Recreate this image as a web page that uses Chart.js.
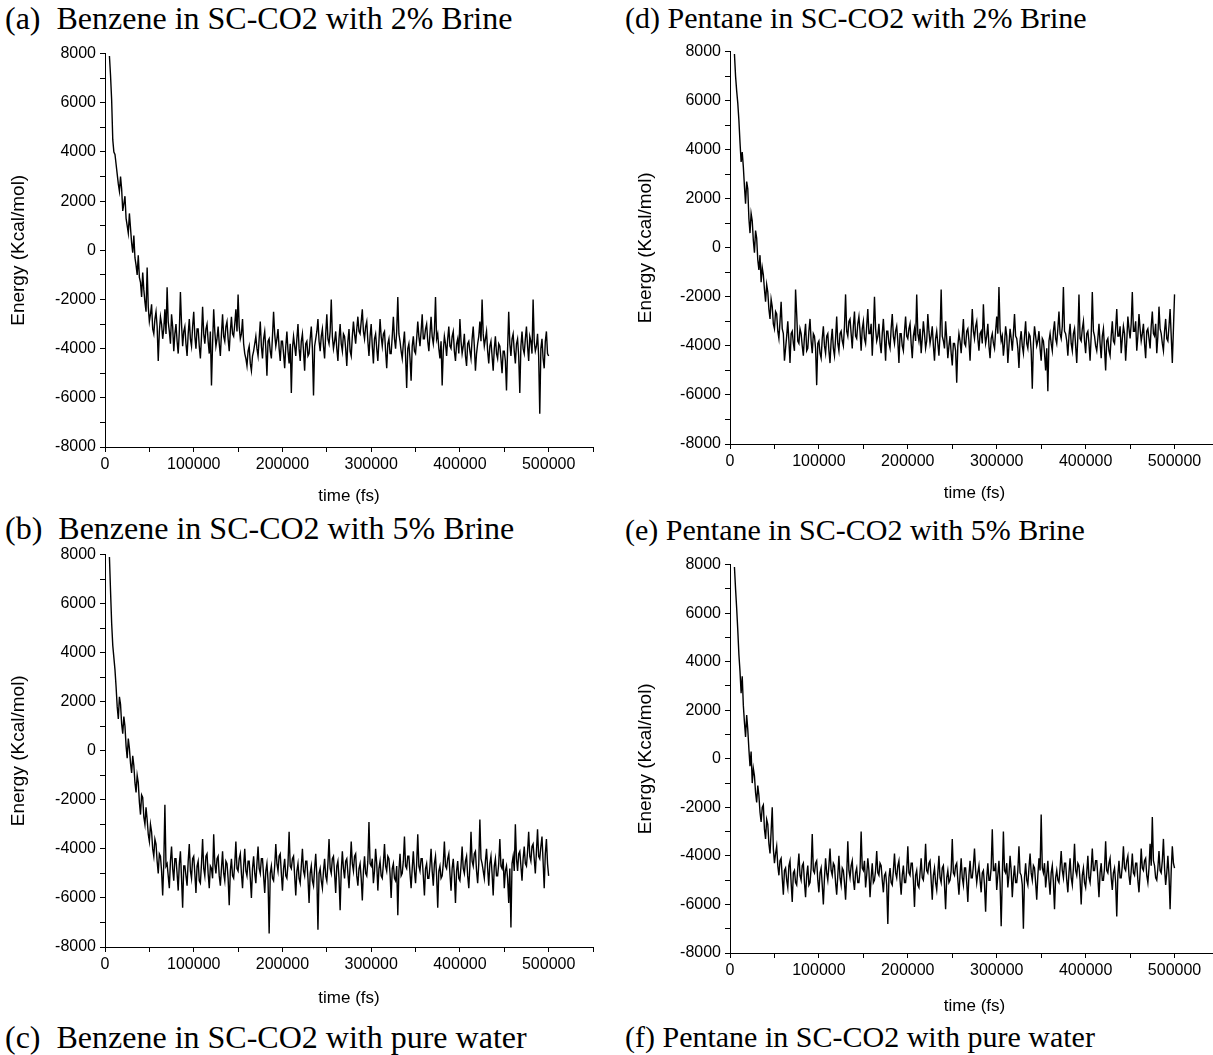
<!DOCTYPE html>
<html>
<head>
<meta charset="utf-8">
<script src="https://cdn.jsdelivr.net/npm/chart.js@4"></script>
<style>
  body { margin: 0; width: 1213px; height: 1055px; overflow: hidden; background: #fff; position: relative; }
  .cap { position: absolute; font-family: "Liberation Serif", "Times New Roman", serif; line-height: 1; white-space: pre; color: #000; }
  .left { font-size: 32px; }
  .right { font-size: 30px; }
  canvas { position: absolute; }
</style>
</head>
<body>
<div class="cap left" style="left:5px;top:2px">(a)  Benzene in SC-CO2 with 2% Brine</div>
<div class="cap left" style="left:5px;top:512px">(b)  Benzene in SC-CO2 with 5% Brine</div>
<div class="cap left" style="left:5px;top:1021px">(c)  Benzene in SC-CO2 with pure water</div>
<div class="cap right" style="left:625px;top:3px">(d) Pentane in SC-CO2 with 2% Brine</div>
<div class="cap right" style="left:625px;top:515px">(e) Pentane in SC-CO2 with 5% Brine</div>
<div class="cap right" style="left:625px;top:1022px">(f) Pentane in SC-CO2 with pure water</div>

<canvas id="plotA" width="598" height="467" style="left:0;top:40px"></canvas>
<canvas id="plotD" width="599" height="466" style="left:625px;top:38px"></canvas>
<canvas id="plotB" width="598" height="468" style="left:0;top:541px"></canvas>
<canvas id="plotE" width="599" height="466" style="left:625px;top:551px"></canvas>

<script>
// sampled time points (fs)
const timeFs = [
  5000,6250,7500,8750,10000,11250,12500,13750,15000,16250,17500,18750,20000,21250,22500,23750,25000,26250,27500,28750,
  30000,31250,32500,33750,35000,36250,37500,38750,40000,41250,42500,43750,45000,46250,47500,48750,50000,51250,52500,53750,
  55000,56250,57500,58750,60000,61250,62500,63750,65000,66250,67500,68750,70000,71250,72500,73750,75000,76250,77500,78750,
  80000,81250,82500,83750,85000,86250,87500,88750,90000,91250,92500,93750,95000,96250,97500,98750,100000,101250,102500,103750,
  105000,106250,107500,108750,110000,111250,112500,113750,115000,116250,117500,118750,120000,121250,122500,123750,125000,126250,127500,128750,
  130000,131250,132500,133750,135000,136250,137500,138750,140000,141250,142500,143750,145000,146250,147500,148750,150000,151250,152500,153750,
  155000,156250,157500,158750,160000,161250,162500,163750,165000,166250,167500,168750,170000,171250,172500,173750,175000,176250,177500,178750,
  180000,181250,182500,183750,185000,186250,187500,188750,190000,191250,192500,193750,195000,196250,197500,198750,200000,201250,202500,203750,
  205000,206250,207500,208750,210000,211250,212500,213750,215000,216250,217500,218750,220000,221250,222500,223750,225000,226250,227500,228750,
  230000,231250,232500,233750,235000,236250,237500,238750,240000,241250,242500,243750,245000,246250,247500,248750,250000,251250,252500,253750,
  255000,256250,257500,258750,260000,261250,262500,263750,265000,266250,267500,268750,270000,271250,272500,273750,275000,276250,277500,278750,
  280000,281250,282500,283750,285000,286250,287500,288750,290000,291250,292500,293750,295000,296250,297500,298750,300000,301250,302500,303750,
  305000,306250,307500,308750,310000,311250,312500,313750,315000,316250,317500,318750,320000,321250,322500,323750,325000,326250,327500,328750,
  330000,331250,332500,333750,335000,336250,337500,338750,340000,341250,342500,343750,345000,346250,347500,348750,350000,351250,352500,353750,
  355000,356250,357500,358750,360000,361250,362500,363750,365000,366250,367500,368750,370000,371250,372500,373750,375000,376250,377500,378750,
  380000,381250,382500,383750,385000,386250,387500,388750,390000,391250,392500,393750,395000,396250,397500,398750,400000,401250,402500,403750,
  405000,406250,407500,408750,410000,411250,412500,413750,415000,416250,417500,418750,420000,421250,422500,423750,425000,426250,427500,428750,
  430000,431250,432500,433750,435000,436250,437500,438750,440000,441250,442500,443750,445000,446250,447500,448750,450000,451250,452500,453750,
  455000,456250,457500,458750,460000,461250,462500,463750,465000,466250,467500,468750,470000,471250,472500,473750,475000,476250,477500,478750,
  480000,481250,482500,483750,485000,486250,487500,488750,490000,491250,492500,493750,495000,496250,497500,498750,500000
];

// energy (Kcal/mol)
const benzeneBrine2 = [
  7900,7100,6100,4500,4000,3900,3500,3100,2700,2400,3000,2500,1600,1900,2200,1300,1000,700,1500,900,
  300,-100,600,-300,-600,-1000,-200,-1100,-1300,-1900,-900,-1600,-2100,-2500,-700,-2300,-2900,-2600,-2200,-3200,
  -3400,-2800,-2500,-3100,-4500,-3300,-2700,-3000,-3600,-3200,-2400,-3400,-1500,-2900,-3300,-3800,-2600,-3100,-4100,-3400,
  -3000,-3700,-4200,-3300,-1700,-3000,-3900,-3300,-3100,-3800,-4300,-3400,-2800,-3600,-3900,-3100,-2500,-3500,-4000,-3200,
  -3200,-3900,-4400,-3500,-2300,-3400,-3800,-3200,-3000,-3700,-4200,-3300,-5500,-3800,-2400,-3300,-3900,-3600,-3100,-3800,
  -4300,-3400,-2600,-3500,-3700,-3100,-2900,-3600,-4100,-3300,-2700,-3400,-3500,-3000,-2400,-3300,-1800,-3100,-3600,-3400,
  -2800,-3800,-4200,-4400,-4700,-4100,-3900,-4600,-4900,-4300,-4100,-3800,-3500,-4000,-4300,-3600,-2900,-3900,-4400,-3600,
  -3300,-4000,-5100,-3700,-3600,-4100,-4400,-3500,-2500,-3400,-3900,-3600,-3200,-4000,-4500,-3700,-3700,-4200,-4800,-3900,
  -3300,-4100,-4600,-3800,-5800,-4000,-3500,-3900,-4300,-3600,-3000,-4000,-4500,-3700,-3400,-4100,-4900,-3800,-3700,-4300,
  -4200,-3600,-3100,-4000,-5900,-3900,-3600,-3300,-2800,-3700,-4100,-3500,-3200,-3900,-4400,-3400,-2600,-3600,-3800,-3300,
  -2000,-3500,-4000,-3700,-3300,-4000,-4500,-3600,-3000,-3800,-4100,-3400,-3500,-4000,-4700,-3700,-3200,-4100,-4300,-3500,
  -2900,-3400,-3800,-3200,-2700,-3300,-3400,-2900,-2400,-3300,-3600,-3100,-2900,-3700,-4300,-3500,-3000,-3900,-4600,-3600,
  -3400,-4000,-4500,-3700,-2800,-3500,-3900,-3400,-3300,-4100,-4800,-3800,-3600,-4200,-4200,-3500,-2700,-3600,-4000,-3300,
  -1900,-3400,-3700,-4100,-4400,-3800,-3300,-4300,-5600,-4000,-3800,-4400,-5300,-3900,-3500,-4100,-4200,-3600,-2900,-3500,
  -3900,-3300,-2600,-3600,-3600,-3200,-3000,-3700,-4100,-3400,-2700,-3500,-3800,-3300,-1900,-3600,-3400,-4000,-4400,-3700,
  -5500,-4100,-3500,-3800,-4300,-3600,-3100,-3900,-4000,-3500,-3300,-4100,-4500,-3800,-3600,-4200,-2800,-3700,-4200,-3900,
  -3400,-4300,-4700,-3800,-3700,-4100,-4400,-3600,-3100,-3900,-4900,-4200,-3800,-3500,-2900,-3700,-2000,-3400,-3900,-3600,
  -3300,-4100,-4600,-3900,-3700,-4300,-4900,-4000,-3500,-4200,-4400,-3800,-3900,-4400,-5000,-4100,-4100,-4500,-5700,-4000,
  -2500,-3800,-4300,-3600,-3400,-4100,-4600,-3800,-3600,-4300,-5800,-3900,-3300,-4000,-4200,-3600,-3100,-3900,-4500,-3500,
  -3700,-4200,-2000,-3700,-4100,-3900,-3400,-4300,-6650,-4000,-3600,-4400,-4800,-3700,-3300,-4200,-4300
];

const pentaneBrine2 = [
  7900,7000,6400,5900,5200,4300,3500,3900,3300,2500,1800,2700,2400,1200,600,1400,1100,300,-200,700,
  400,-500,-900,-300,-1400,-800,-1100,-1700,-2200,-1500,-1800,-2500,-2900,-2100,-2400,-3100,-3300,-2600,-2700,-3400,
  -3700,-3000,-2200,-3300,-3500,-4600,-4100,-3600,-3000,-3800,-4700,-3500,-3400,-3900,-4200,-1700,-2700,-3800,-3900,-3300,
  -3500,-4000,-4400,-3600,-3100,-4200,-4100,-3400,-2900,-3800,-4300,-3500,-3600,-4100,-5600,-3900,-3800,-4300,-4500,-3700,
  -3200,-4000,-4300,-3600,-3500,-4200,-4700,-3800,-3300,-4100,-4400,-3700,-2800,-3900,-4200,-3500,-3400,-3800,-4000,-3200,
  -1900,-3400,-3600,-3000,-2900,-3500,-4100,-3200,-2600,-3600,-3700,-3100,-2800,-3400,-4200,-3300,-3000,-3700,-3900,-3200,
  -2500,-3500,-3500,-3100,-4400,-3400,-2000,-3300,-3800,-3600,-3100,-3900,-4300,-3500,-2900,-3700,-4600,-3400,-3400,-3900,
  -4100,-3300,-2700,-3600,-3900,-3400,-3200,-3800,-4700,-3500,-3500,-4000,-4200,-3400,-2800,-3600,-3700,-3300,-3100,-3900,
  -4500,-3600,-3300,-3800,-1900,-3500,-3800,-3300,-4300,-3700,-3000,-3500,-4100,-3800,-2700,-3400,-3900,-3600,-3200,-4000,
  -4600,-3700,-3400,-3900,-4400,-3500,-1700,-3600,-3800,-4100,-3000,-3700,-4500,-4000,-3600,-4300,-4800,-3900,-3900,-4200,
  -5500,-4000,-3500,-3800,-4300,-3600,-2900,-3900,-4000,-3400,-3300,-3800,-4600,-3500,-2500,-3400,-3700,-3200,-3000,-3700,
  -4200,-3500,-3400,-3900,-2300,-3400,-3900,-3600,-3100,-4000,-4500,-3700,-3500,-3900,-4100,-3400,-2800,-3500,-1600,-3300,
  -3800,-3600,-4400,-3900,-3200,-3600,-4700,-4000,-3300,-3700,-4200,-3500,-2700,-3600,-3700,-4100,-4900,-3800,-3400,-4000,
  -4300,-3600,-3000,-3900,-4100,-3500,-3600,-4200,-5750,-3900,-3200,-3600,-4000,-3800,-3400,-4100,-4600,-3700,-3800,-4300,
  -5000,-4100,-5850,-3800,-3500,-3900,-4200,-3400,-3000,-3700,-3900,-3300,-2600,-3500,-3700,-3200,-1600,-3400,-3500,-3800,
  -4400,-3600,-3100,-3900,-4200,-3500,-3300,-4000,-4700,-3600,-1900,-3700,-3800,-3300,-3000,-3800,-4300,-3500,-3400,-3900,
  -4600,-3600,-1800,-3400,-3600,-4000,-4200,-3700,-3100,-3900,-4500,-3600,-3300,-4100,-5000,-3800,-3700,-4200,-4400,-3600,
  -3000,-3800,-3900,-3300,-2500,-3600,-3600,-3200,-4300,-3700,-3200,-3500,-4600,-3800,-2800,-3300,-3700,-3100,-1800,-3400,
  -3400,-3000,-4200,-3600,-2700,-3300,-3800,-3500,-3100,-3900,-4500,-3400,-3300,-3700,-4100,-3200,-2600,-3500,-3600,-3100,
  -4300,-3600,-2400,-3300,-3500,-3900,-4200,-3400,-2900,-3700,-3800,-3200,-2500,-3600,-4700,-3300,-1900
];

const benzeneBrine5 = [
  7900,6500,5200,4300,3800,3300,2600,1800,1300,2200,1900,1100,700,1400,1000,200,-300,500,100,-500,
  -900,-200,-600,-1300,-1700,-1000,-1300,-2100,-2600,-1800,-1900,-2700,-3000,-2300,-2800,-3400,-3700,-3000,-3300,-4000,
  -4300,-3600,-3800,-4500,-5000,-4200,-4300,-4900,-5900,-4600,-2200,-4700,-4600,-5100,-5600,-4500,-3900,-4800,-5300,-4400,
  -4400,-5000,-5700,-4600,-4100,-5200,-6400,-4700,-4700,-5100,-5500,-4500,-3800,-4900,-5200,-4400,-4300,-5000,-5800,-4700,
  -4500,-5300,-5400,-4600,-3600,-4800,-5100,-4300,-4200,-5000,-5600,-4700,-4800,-5200,-3400,-4600,-5000,-4400,-4300,-5100,
  -5500,-4800,-4100,-5000,-5300,-4500,-4600,-5200,-6300,-4900,-4400,-5100,-5200,-4600,-3700,-4800,-4900,-4400,-4200,-5000,
  -5600,-4700,-4000,-4900,-5100,-4500,-4500,-5200,-6000,-4800,-4300,-5000,-5400,-4600,-3900,-4800,-5000,-4400,-4400,-5100,
  -5800,-4900,-4600,-5300,-7450,-5000,-4700,-5200,-5300,-4700,-3800,-4600,-4900,-4300,-4200,-5000,-5700,-4800,-4400,-5100,
  -5200,-4600,-3300,-4700,-4800,-4400,-4300,-5100,-5900,-4900,-4600,-5200,-5400,-4700,-4000,-4900,-5100,-4500,-4500,-5200,
  -6200,-5000,-4700,-5300,-5500,-4800,-4200,-5100,-7300,-5000,-4800,-5300,-5600,-4900,-4400,-5100,-5300,-4600,-3600,-4800,
  -5000,-4400,-4300,-5000,-5800,-4700,-4500,-5200,-6500,-4900,-4100,-4800,-5200,-4500,-4400,-5000,-5600,-4700,-3700,-4600,
  -4900,-4300,-4200,-5100,-5500,-4800,-4600,-5200,-6100,-4900,-4300,-5000,-5100,-4500,-2900,-4600,-4700,-4400,-5400,-4900,
  -4000,-4600,-5700,-4800,-4500,-5100,-5200,-4600,-3800,-4700,-4900,-4300,-4400,-5000,-6000,-4800,-4600,-5200,-5300,-4700,
  -6700,-4900,-4200,-5100,-5000,-4500,-3500,-4700,-4800,-4300,-4300,-5000,-5600,-4800,-4100,-4900,-5400,-4600,-3400,-4700,
  -4900,-4400,-4400,-5100,-5900,-4800,-4600,-5200,-5200,-4700,-4000,-4900,-5500,-4600,-4300,-5100,-6400,-4900,-4700,-5200,
  -5100,-4600,-3700,-4700,-4800,-4400,-4200,-5000,-5700,-4800,-4400,-5100,-6200,-4900,-4500,-5200,-5300,-4700,-3900,-4800,
  -5000,-4500,-4300,-5100,-5600,-4700,-3300,-4500,-4700,-4200,-4100,-4900,-5400,-4600,-2800,-4400,-4600,-4900,-5200,-4500,
  -4000,-4800,-5500,-4600,-4300,-5000,-5900,-4700,-4400,-5100,-5100,-4600,-3600,-4700,-4800,-4400,-5600,-4900,-4700,-5200,
  -6200,-4800,-7200,-4600,-4300,-4900,-3000,-4400,-4900,-4200,-4100,-4700,-5300,-4400,-3900,-4600,-4700,-4100,-3300,-4300,
  -4500,-3900,-3800,-4400,-5000,-4100,-3200,-4300,-4400,-3900,-3500,-4500,-5600,-4200,-3600,-4600,-5100
];

const pentaneBrine5 = [
  7900,7000,6200,5300,4300,3600,2700,3400,2200,1500,900,1800,1200,400,-300,300,-1000,-400,-700,-1400,
  -1800,-1100,-1500,-2200,-2600,-2000,-1900,-2900,-3300,-2500,-2700,-3500,-3900,-3000,-2000,-3700,-4300,-3900,-3600,-4400,
  -4800,-4200,-4100,-4900,-5600,-4600,-4500,-5000,-5300,-4400,-4200,-5100,-5900,-4700,-4600,-5100,-5200,-4500,-3900,-4800,
  -5000,-4400,-4300,-5100,-5700,-4800,-4400,-5200,-5100,-4500,-3100,-4600,-4700,-4300,-4200,-5000,-5500,-4700,-4500,-5200,
  -6000,-4900,-4100,-4700,-5000,-4400,-3700,-4600,-4800,-4300,-4400,-5100,-5600,-4800,-4000,-4900,-5200,-4500,-4600,-5100,
  -5800,-4800,-3400,-4600,-4900,-4400,-4200,-5000,-5400,-4700,-4500,-5100,-5100,-4600,-3000,-4500,-4600,-4200,-5300,-4800,
  -4100,-4600,-5700,-4900,-4300,-5100,-5000,-4600,-3800,-4700,-4800,-4300,-4400,-5000,-5500,-4800,-4700,-5200,-6800,-4900,
  -4500,-5100,-5200,-4600,-3900,-4700,-4900,-4400,-4200,-5000,-5600,-4800,-4400,-5100,-5100,-4600,-3600,-4700,-4800,-4300,
  -4300,-5000,-6100,-4800,-4600,-5200,-5300,-4700,-4100,-4900,-5000,-4500,-3500,-4600,-4700,-4300,-4200,-5000,-5800,-4800,
  -4500,-5100,-5400,-4700,-4000,-4900,-5100,-4500,-4400,-5200,-6200,-4900,-4600,-5100,-5000,-4600,-3300,-4700,-4800,-4400,
  -4300,-5000,-5600,-4800,-4100,-4900,-5200,-4500,-4500,-5100,-5900,-4800,-4200,-4900,-4900,-4400,-3700,-4600,-5100,-4700,
  -4400,-5000,-5500,-4700,-4600,-5200,-6300,-4900,-4300,-5000,-5000,-4500,-2900,-4600,-4600,-4300,-5400,-4800,-4200,-5100,
  -6900,-4900,-3000,-4600,-4700,-4300,-5300,-4800,-4000,-4600,-5700,-4900,-4400,-5100,-5100,-4600,-3600,-4700,-4800,-5200,
  -7000,-4900,-4300,-5000,-5200,-4500,-3900,-4700,-5000,-4400,-4500,-5100,-5800,-4800,-4100,-4600,-2300,-4500,-4700,-4300,
  -5300,-4800,-4200,-5000,-5600,-4700,-4400,-5100,-6200,-4900,-4600,-5000,-5100,-4500,-3800,-4600,-4900,-4300,-4300,-5000,
  -5500,-4700,-4100,-4900,-5200,-4500,-3500,-4600,-4800,-4300,-4400,-5000,-6000,-4800,-4500,-5100,-5300,-4700,-4000,-4900,
  -5100,-4500,-3700,-4600,-4600,-4200,-4200,-4900,-5700,-4700,-4300,-5000,-5000,-4500,-3400,-4600,-4700,-4300,-4100,-4900,
  -5400,-4700,-4500,-5100,-6500,-4800,-4200,-4900,-4900,-4400,-3600,-4500,-4600,-4200,-4000,-4800,-5200,-4600,-3900,-4700,
  -4800,-4300,-4300,-5000,-5500,-4700,-3700,-4500,-4600,-4200,-4100,-4800,-5100,-4500,-3500,-4400,-2400,-4200,-4400,-4900,
  -5000,-4500,-3800,-4600,-4700,-4200,-3300,-4500,-5200,-4700,-4000,-4800,-6200,-4600,-3600,-4300,-4500
];

const xMax = 550000;
const yMin = -8000, yMax = 8000;
const axisFont = { family: "'Liberation Sans', Arial, sans-serif", size: 16 };
const xTitleFont = { family: "'Liberation Sans', Arial, sans-serif", size: 17 };
const yTitleFont = { family: "'Liberation Sans', Arial, sans-serif", size: 19 };

function makeChart(id, energy, yTitlePad, xAxisHeight) {
  const points = energy.map((e, i) => ({ x: timeFs[i], y: e }));
  new Chart(document.getElementById(id), {
    type: 'line',
    data: {
      datasets: [{
        data: points,
        borderColor: '#000',
        borderWidth: 1.4,
        borderJoinStyle: 'miter',
        pointRadius: 0,
        tension: 0,
        fill: false
      }]
    },
    options: {
      responsive: false,
      animation: false,
      events: [],
      layout: { padding: { top: 10, right: 5, bottom: 0, left: 0 } },
      plugins: { legend: { display: false }, tooltip: { enabled: false } },
      scales: {
        x: {
          type: 'linear',
          min: 0,
          max: xMax,
          border: { display: true, color: '#000', width: 1 },
          grid: { drawOnChartArea: false, drawTicks: true, tickLength: 5, color: '#000' },
          ticks: {
            stepSize: 50000,
            autoSkip: false,
            maxRotation: 0,
            padding: 3,
            color: '#000',
            font: axisFont,
            callback: v => (v % 100000 === 0 && v <= 500000) ? String(v) : ''
          },
          title: { display: true, text: 'time (fs)', color: '#000', font: xTitleFont, padding: 0 },
          afterFit: s => { s.height = xAxisHeight; }
        },
        y: {
          min: yMin,
          max: yMax,
          border: { display: true, color: '#000', width: 1 },
          grid: { drawOnChartArea: false, drawTicks: true, tickLength: 5, color: '#000' },
          ticks: {
            stepSize: 1000,
            autoSkip: false,
            padding: 4,
            color: '#000',
            font: axisFont,
            callback: v => (v % 2000 === 0) ? String(v) : ''
          },
          title: { display: true, text: 'Energy (Kcal/mol)', color: '#000', font: yTitleFont, padding: { top: yTitlePad, bottom: 0 } },
          afterFit: s => { s.width = 105; }
        }
      }
    }
  });
}

makeChart('plotA', benzeneBrine2, 7, 60);
makeChart('plotD', pentaneBrine2, 9, 60);
makeChart('plotB', benzeneBrine5, 7, 62);
makeChart('plotE', pentaneBrine5, 9, 64);
</script>
</body>
</html>
